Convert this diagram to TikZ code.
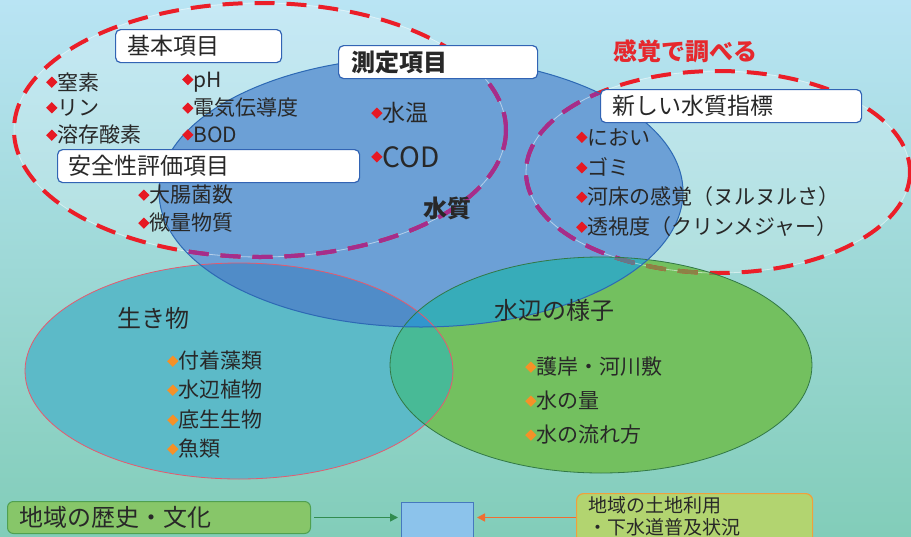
\documentclass[tikz,border=0pt]{standalone}
\usepackage{fontspec}
\setmainfont{Noto Sans CJK JP}
\usepackage{graphicx}
\usetikzlibrary{arrows.meta}
\definecolor{bgtop}{RGB}{185,228,244}
\definecolor{bgbot}{RGB}{130,205,185}
\definecolor{cB}{RGB}{108,160,214}
\definecolor{cT}{RGB}{92,186,200}
\definecolor{cG}{RGB}{115,192,95}
\definecolor{cTG}{RGB}{72,186,150}
\definecolor{cBT}{RGB}{80,140,200}
\definecolor{cBG}{RGB}{55,172,185}
\definecolor{cBTG}{RGB}{50,150,205}
\definecolor{lB}{RGB}{45,105,180}
\definecolor{lT}{RGB}{230,90,110}
\definecolor{lG}{RGB}{50,120,70}
\definecolor{dR}{RGB}{235,30,40}
\definecolor{dP}{RGB}{165,45,140}
\definecolor{dO}{RGB}{140,130,70}
\definecolor{dGr}{RGB}{100,120,140}
\definecolor{txt}{RGB}{40,40,40}
\definecolor{boxb}{RGB}{50,100,180}
\definecolor{diaR}{RGB}{230,25,35}
\definecolor{diaO}{RGB}{245,145,40}
\definecolor{grbox}{RGB}{135,198,105}
\definecolor{grline}{RGB}{80,160,80}
\definecolor{lbbox}{RGB}{140,195,235}
\definecolor{lbline}{RGB}{70,120,190}
\definecolor{ylbox}{RGB}{178,212,112}
\definecolor{orline}{RGB}{240,160,60}
\definecolor{garrow}{RGB}{50,140,80}
\definecolor{oarrow}{RGB}{240,110,50}
\definecolor{titlered}{RGB}{230,40,45}

\newcommand{\dmd}[1]{\textcolor{#1}{\raisebox{\dimexpr0.37em-4pt\relax}{\rotatebox[origin=c]{45}{\rule{8pt}{8pt}}}}}

\tikzset{
  elB/.style={insert path={(421,192) ellipse [x radius=262, y radius=135]}},
  elT/.style={insert path={(239,371) ellipse [x radius=214, y radius=108]}},
  elG/.style={insert path={(601,365) ellipse [x radius=211, y radius=108]}},
  elDa/.style={insert path={(260,130) ellipse [x radius=246, y radius=127]}},
  elDb/.style={insert path={(718,172) ellipse [x radius=192, y radius=101]}},
  dsh/.style={line width=4pt, dash pattern=on 20pt off 12pt},
  lblbox/.style={draw=boxb, line width=1.2pt, fill=white, rounded corners=5pt,
    inner xsep=12pt, inner ysep=0pt, minimum height=33pt, anchor=north west,
    align=left, text=txt, font=\fontsize{23}{27}\selectfont},
  item/.style={anchor=west, inner sep=0pt, text=txt, font=\fontsize{21}{25}\selectfont},
  head/.style={anchor=west, inner sep=0pt, text=txt, font=\fontsize{24}{28}\selectfont},
  arr/.style={line width=1.5pt, -{Triangle[length=8pt,width=8pt]}}
}

\begin{document}
\begin{tikzpicture}[x=1pt,y=-1pt]
\useasboundingbox (0,0) rectangle (911,536);
\shade[top color=bgtop,bottom color=bgbot] (0,0) rectangle (911,536);

% light fills of the dashed groups
\fill[white,fill opacity=0.2,elDa];
\fill[white,fill opacity=0.2,elDb];

% coloured ellipses
\fill[cT,elT];
\fill[cG,elG];
\fill[cB,elB];
\begin{scope}
  \clip[elT];
  \fill[cTG,elG];
\end{scope}
\begin{scope}
  \clip[elB];
  \fill[cBT,elT];
  \fill[cBG,elG];
  \clip[elT];
  \fill[cBTG,elG];
\end{scope}

% dashed group outlines
\draw[white,opacity=0.5,line width=0.8pt,elDa];
\draw[white,opacity=0.5,line width=0.8pt,elDb];
\draw[dsh,dR,elDa];
\draw[dsh,dR,elDb];
\begin{scope}
  \clip[elB];
  \draw[dsh,dP,elDa];
  \draw[dsh,dP,elDb];
\end{scope}
\begin{scope}
  \clip[elG];
  \draw[dsh,dO,elDb];
  \clip[elB];
  \draw[dsh,dGr,elDb];
\end{scope}

% ellipse borders
\draw[lT,line width=0.8pt,elT];
\draw[lG,line width=0.8pt,elG];
\draw[lB,line width=1pt,elB];

% label boxes
\node (kihon) [lblbox, text width=142pt] at (115,29) {基本項目};
\node (sokutei) [lblbox, text width=173pt, inner xsep=13pt, font=\fontsize{24}{28}\selectfont\bfseries] at (338,45) {測定項目};
\node (anzen) [lblbox, text width=280pt, inner xsep=11pt] at (57,149) {安全性評価項目};
\node (atarashii) [lblbox, text width=237pt] at (600,89) {新しい水質指標};
\node (kankaku) [anchor=west, inner sep=0pt, text=titlered, font=\fontsize{24}{28}\selectfont\bfseries] at (613,51) {感覚で調べる};

% basic items
\node (i1) [item] at (46,82) {\dmd{diaR}窒素};
\node (i2) [item] at (46,108) {\dmd{diaR}リン};
\node (i3) [item] at (46,135) {\dmd{diaR}溶存酸素};
\node (i4) [item] at (182,82) {\dmd{diaR}pH};
\node (i5) [item] at (182,108) {\dmd{diaR}電気伝導度};
\node (i6) [item] at (182,135) {\dmd{diaR}BOD};
\node (i7) [item] at (138,195) {\dmd{diaR}大腸菌数};
\node (i8) [item] at (138,223) {\dmd{diaR}微量物質};
\node (m1) [item, font=\fontsize{23}{27}\selectfont] at (371,113) {\dmd{diaR}水温};
\node (m2) [item, font=\fontsize{28}{32}\selectfont] at (371,157) {\dmd{diaR}COD};
\node (suishitsu) [head, font=\fontsize{24}{28}\selectfont\bfseries] at (423,208) {水質};

% new indicators
\node (n1) [item] at (576,137) {\dmd{diaR}におい};
\node (n2) [item] at (576,167) {\dmd{diaR}ゴミ};
\node (n3) [item] at (576,197) {\dmd{diaR}河床の感覚（ヌルヌルさ）};
\node (n4) [item] at (576,227) {\dmd{diaR}透視度（クリンメジャー）};

% living things
\node (ikimono) [head] at (117,318) {生き物};
\node (b1) [item] at (167,361) {\dmd{diaO}付着藻類};
\node (b2) [item] at (167,390) {\dmd{diaO}水辺植物};
\node (b3) [item] at (167,420) {\dmd{diaO}底生生物};
\node (b4) [item] at (167,449) {\dmd{diaO}魚類};

% waterside
\node (mizube) [head] at (494,310) {水辺の様子};
\node (w1) [item] at (525,367) {\dmd{diaO}護岸・河川敷};
\node (w2) [item] at (525,401) {\dmd{diaO}水の量};
\node (w3) [item] at (525,435) {\dmd{diaO}水の流れ方};

% bottom row
\node (rekishi) [draw=grline, line width=1pt, fill=grbox, rounded corners=6pt,
  anchor=north west, minimum height=32pt, text width=279pt, inner xsep=12pt, inner ysep=0pt,
  align=left, text=txt, font=\fontsize{24}{28}\selectfont] at (7,501) {地域の歴史・文化};
\node (center) [draw=lbline, line width=1pt, fill=lbbox, anchor=north west,
  minimum width=72pt, minimum height=40pt, inner sep=0pt] at (401,502) {};
\node (tochi) [draw=orline, line width=1.2pt, fill=ylbox, rounded corners=7pt, anchor=north west,
  minimum width=236pt, minimum height=55pt, inner sep=0pt] at (576,493) {};
\node (t1) [anchor=west, inner sep=0pt, text=txt, font=\fontsize{19}{22}\selectfont] at (588,505) {地域の土地利用};
\node (t2) [anchor=west, inner sep=0pt, text=txt, font=\fontsize{19}{22}\selectfont] at (588,527) {・下水道普及状況};

\draw[arr, garrow, shorten <=3pt, shorten >=3pt] (rekishi.east) -- (rekishi.east -| center.west);
\draw[arr, oarrow, shorten >=3pt] (rekishi.east -| tochi.west) -- (rekishi.east -| center.east);
\end{tikzpicture}
\end{document}
